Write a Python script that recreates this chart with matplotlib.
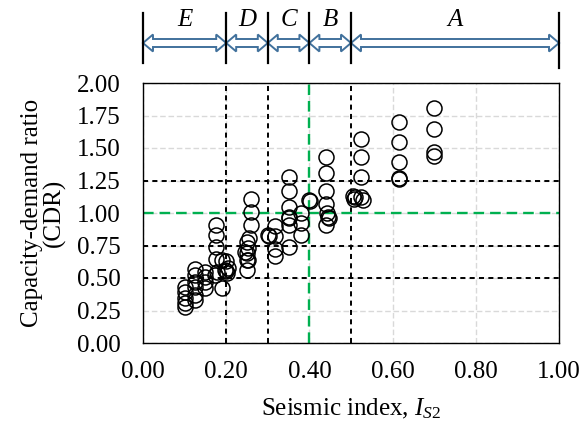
import numpy as np
import matplotlib
matplotlib.use("Agg")
import matplotlib.pyplot as plt
from matplotlib.patches import Polygon

plt.rcParams['font.family'] = ['Liberation Serif', 'DejaVu Serif']
plt.rcParams['mathtext.fontset'] = 'custom'
plt.rcParams['mathtext.rm'] = 'Liberation Serif'
plt.rcParams['mathtext.it'] = 'Liberation Serif:italic'

# ---- data ----
is2 = [0.10, 0.10, 0.10, 0.10, 0.10,
       0.125, 0.125, 0.125, 0.125, 0.125, 0.125,
       0.15, 0.15, 0.15, 0.15,
       0.175, 0.175, 0.175, 0.175, 0.173, 0.178,
       0.19, 0.19,
       0.20, 0.205, 0.197, 0.200, 0.203,
       0.26, 0.26, 0.26, 0.255, 0.25, 0.252, 0.246, 0.249, 0.252, 0.25, 0.25,
       0.30, 0.302, 0.317, 0.317, 0.317, 0.317,
       0.35, 0.35, 0.35, 0.35, 0.352, 0.35, 0.35,
       0.38, 0.38, 0.38,
       0.40, 0.401,
       0.44, 0.44, 0.44, 0.44, 0.442, 0.445, 0.447, 0.44,
       0.505, 0.51, 0.508,
       0.525, 0.525, 0.525, 0.525, 0.53,
       0.615, 0.615, 0.615, 0.615, 0.615,
       0.70, 0.70, 0.70, 0.70]
cdr = [0.43, 0.39, 0.35, 0.31, 0.28,
       0.57, 0.52, 0.47, 0.43, 0.37, 0.33,
       0.55, 0.51, 0.47, 0.42,
       0.91, 0.83, 0.74, 0.65, 0.52, 0.55,
       0.64, 0.42,
       0.63, 0.58, 0.56, 0.555, 0.54,
       1.11, 1.01, 0.91, 0.81, 0.78, 0.73, 0.70, 0.695, 0.64, 0.64, 0.56,
       0.83, 0.825, 0.90, 0.82, 0.72, 0.67,
       1.28, 1.17, 1.05, 0.97, 0.965, 0.91, 0.74,
       1.00, 0.92, 0.83,
       1.10, 1.095,
       1.43, 1.31, 1.17, 1.07, 1.00, 0.97, 0.965, 0.91,
       1.13, 1.12, 1.11,
       1.57, 1.43, 1.28, 1.12, 1.10,
       1.70, 1.55, 1.39, 1.27, 1.26,
       1.81, 1.65, 1.47, 1.44]

zone_bounds = [0.0, 0.2, 0.3, 0.4, 0.5, 1.0]
zone_labels = ['E', 'D', 'C', 'B', 'A']
black_v = [0.2, 0.3, 0.5]
green_v = 0.4
black_h = [0.5, 0.75, 1.25]
green_h = 1.0
xticks = [0.0, 0.2, 0.4, 0.6, 0.8, 1.0]
yticks = [0.0, 0.25, 0.5, 0.75, 1.0, 1.25, 1.5, 1.75, 2.0]

W, H = 585, 429
fig = plt.figure(figsize=(W/100, H/100), dpi=100)
ax = fig.add_axes([143/W, 1-343/H, 416/W, 260/H])

ax.set_xlim(0, 1)
ax.set_ylim(0, 2)
ax.set_xticks(xticks)
ax.set_yticks(yticks)
ax.set_xticklabels([f"{v:.2f}" for v in xticks])
ax.set_yticklabels([f"{v:.2f}" for v in yticks])
ax.tick_params(axis='both', length=0, labelsize=18)
ax.tick_params(axis='x', pad=13)
ax.tick_params(axis='y', pad=16)
ax.grid(True, color='#d9d9d9', linestyle=(0, (4, 2)), linewidth=1.0)
ax.set_axisbelow(True)

for v in black_v:
    ax.axvline(v, color='black', linewidth=1.4, linestyle=(0, (2.6, 2.2)), zorder=2)
for h in black_h:
    ax.axhline(h, color='black', linewidth=1.4, linestyle=(0, (2.6, 2.2)), zorder=2)
ax.axvline(green_v, color='#00b050', linewidth=1.7, linestyle=(0, (4.5, 2.5)), zorder=2)
ax.axhline(green_h, color='#00b050', linewidth=1.7, linestyle=(0, (4.5, 2.5)), zorder=2)

ax.plot(is2, cdr, linestyle='none', marker='o', markersize=10.8,
        markerfacecolor='none', markeredgecolor='black', markeredgewidth=1.1, zorder=3)

for s in ax.spines.values():
    s.set_color('black')
    s.set_linewidth(1.0)

ax.set_xlabel('Seismic index, $I_{\\mathit{S2}}$', fontsize=18, labelpad=10)
ax.set_ylabel('Capacity-demand ratio\n(CDR)', fontsize=18, labelpad=8, linespacing=1.0)

# ---- zone annotation strip ----
top = fig.add_axes([143/W, 1-70/H, 416/W, 60/H])
top.set_xlim(0, 1)
top.set_ylim(0, 60)
top.axis('off')
for i, b in enumerate(zone_bounds):
    y0 = 2 if i == len(zone_bounds)-1 else 7
    top.plot([b, b], [y0, 57], color='black', linewidth=1.6, clip_on=False)
L = 10/416
hb, hh, yc = 4, 8.5, 27
for a, b, lab in zip(zone_bounds[:-1], zone_bounds[1:], zone_labels):
    pts = [(a, yc), (a+L, yc+hh), (a+L, yc+hb), (b-L, yc+hb), (b-L, yc+hh),
           (b, yc), (b-L, yc-hh), (b-L, yc-hb), (a+L, yc-hb), (a+L, yc-hh)]
    top.add_patch(Polygon(pts, closed=True, facecolor='white',
                          edgecolor='#41719c', linewidth=1.4, clip_on=False))
    top.text((a+b)/2, 50, lab, ha='center', va='center', fontsize=18,
             style='italic')

fig.savefig('out.png', dpi=100)
